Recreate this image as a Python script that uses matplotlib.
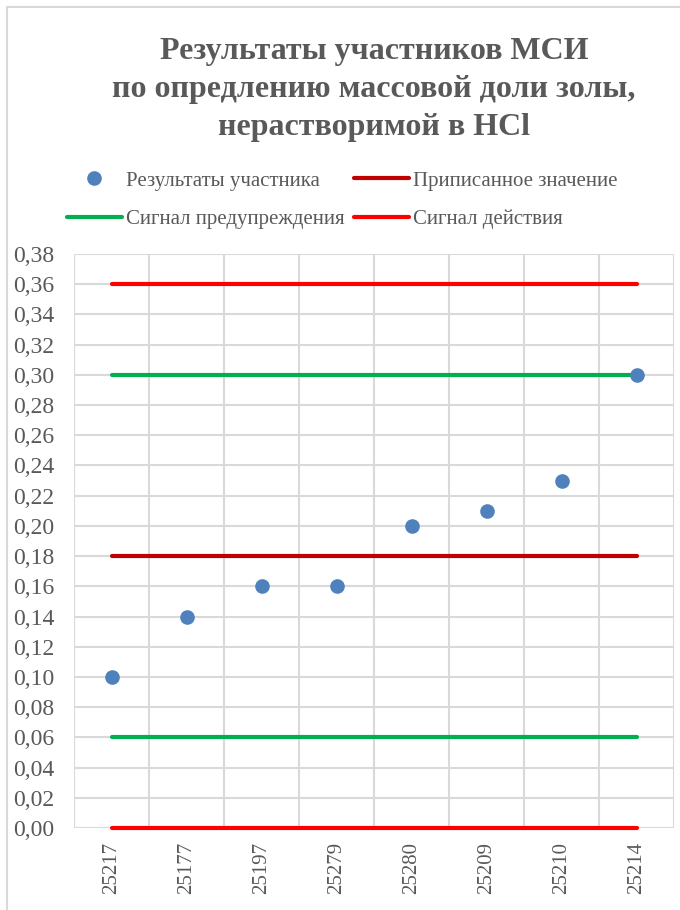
import matplotlib
matplotlib.use("Agg")
import matplotlib.pyplot as plt
from matplotlib.lines import Line2D
from matplotlib.patches import Rectangle
from matplotlib.ticker import FuncFormatter, MultipleLocator
import numpy as np

plt.rcParams["font.family"] = ["Liberation Serif", "DejaVu Serif"]

TXT = "#595959"
GRID = "#D9D9D9"
BLUE = "#4F81BD"
DARKRED = "#C00000"
GREEN = "#00B050"
RED = "#FF0000"

# participant codes and their results
participants = ["25217", "25177", "25197", "25279", "25280", "25209", "25210", "25214"]
results = [0.10, 0.14, 0.16, 0.16, 0.20, 0.21, 0.23, 0.30]

# reference levels
assigned = 0.18
warning_low, warning_high = 0.06, 0.30
action_low, action_high = 0.00, 0.36

title_lines = ["Результаты участников МСИ",
               "по опредлению массовой доли золы,",
               "нерастворимой в HCl"]

x = np.arange(len(participants))

fig = plt.figure(figsize=(6.8, 9.1), dpi=100)
ax = fig.add_axes([74 / 680, 82 / 910, 600 / 680, 574 / 910])

line_kw = dict(lw=3.0, solid_capstyle="round", clip_on=False, zorder=3)
ax.plot(x, [action_low] * len(x), color=RED, **line_kw)
ax.plot(x, [action_high] * len(x), color=RED, **line_kw)
ax.plot(x, [warning_low] * len(x), color=GREEN, **line_kw)
ax.plot(x, [warning_high] * len(x), color=GREEN, **line_kw)
ax.plot(x, [assigned] * len(x), color=DARKRED, **line_kw)
ax.plot(x, results, "o", color=BLUE, ms=9.5, mec=BLUE, clip_on=False, zorder=4)

ax.set_xlim(-0.5, len(x) - 0.5)
ax.set_ylim(0, 0.38)
ax.yaxis.set_major_locator(MultipleLocator(0.02))
ax.yaxis.set_major_formatter(FuncFormatter(lambda v, p: f"{v:.2f}".replace(".", ",")))
ax.set_xticks(x)
ax.set_xticklabels(participants, rotation=90)
ax.set_xticks(np.arange(-0.5, len(x)), minor=True)

ax.grid(axis="y", which="major", color=GRID, lw=1.5, zorder=0)
ax.grid(axis="x", which="minor", color=GRID, lw=1.5, zorder=0)
ax.grid(axis="x", which="major", visible=False)
ax.tick_params(axis="both", which="both", length=0, colors=TXT)
ax.tick_params(axis="y", labelsize=17, pad=14)
ax.tick_params(axis="x", labelsize=15, pad=10)
for s in ax.spines.values():
    s.set_visible(False)
ax.set_axisbelow(True)

# title, one line at a time for even spacing
for line, yc in zip(title_lines, [51, 90, 128]):
    fig.text(374 / 680, 1 - yc / 910, line, ha="center", va="center",
             fontsize=23, fontweight="bold", color=TXT)

handles = [
    Line2D([], [], ls="none", marker="o", color=BLUE, ms=9.5),
    Line2D([], [], color=GREEN, lw=3.0, solid_capstyle="round"),
    Line2D([], [], color=DARKRED, lw=3.0, solid_capstyle="round"),
    Line2D([], [], color=RED, lw=3.0, solid_capstyle="round"),
]
labels = ["Результаты участника", "Сигнал предупреждения",
          "Приписанное значение", "Сигнал действия"]
leg = fig.legend(handles, labels, ncol=2, loc="center",
                 bbox_to_anchor=(342 / 680, 1 - 200 / 910),
                 frameon=False, fontsize=15, handlelength=2.64,
                 handletextpad=0.2, columnspacing=0.45, labelspacing=0.9,
                 borderpad=0)
for t in leg.get_texts():
    t.set_color(TXT)

fig.patches.append(Rectangle((7 / 680, -0.1), 1.0, 1.1 - 7 / 910,
                             transform=fig.transFigure, fill=False,
                             ec=GRID, lw=1.5))

fig.savefig("out.png", dpi=100)
